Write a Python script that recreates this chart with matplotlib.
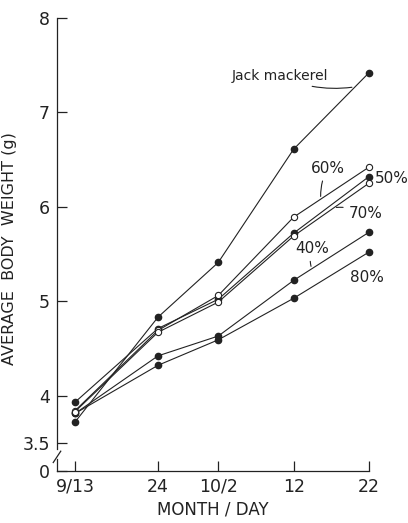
# growth curves, jack mackerel vs feed mixtures

import matplotlib.pyplot as plt
import numpy as np

days = [0, 11, 19, 29, 39]          # days after 9/13
day_labels = ['9/13', '24', '10/2', '12', '22']

jack = [3.72, 4.83, 5.41, 6.61, 7.42]
p40 = [3.81, 4.42, 4.63, 5.22, 5.73]
p50 = [3.93, 4.71, 5.02, 5.72, 6.32]
p60 = [3.84, 4.69, 5.06, 5.89, 6.42]
p70 = [3.83, 4.67, 4.99, 5.69, 6.25]
p80 = [3.81, 4.32, 4.59, 5.03, 5.52]

ytick_vals = [3.2, 3.5, 4, 5, 6, 7, 8]
ytick_labels = ['0', '3.5', '4', '5', '6', '7', '8']

fig = plt.figure(figsize=(4.08, 5.23), dpi=100)
ax = fig.add_axes([0.1397, 0.0994, 0.7647, 0.8662])

lc = '#222222'
filled = dict(marker='o', ms=4.5, mfc=lc, mec=lc)
opened = dict(marker='o', ms=4.5, mfc='white', mec=lc, mew=0.8)

for y in [jack, p40, p50, p80]:
    ax.plot(days, y, color=lc, lw=0.8, clip_on=False, **filled)
for y in [p60, p70]:
    ax.plot(days, y, color=lc, lw=0.8, clip_on=False, zorder=3, **opened)

ax.set_xlim(-2.4, 39)
ax.set_ylim(3.2, 8)

ax.set_xticks(days)
ax.set_xticklabels(day_labels)
ax.set_yticks(ytick_vals)
ax.set_yticklabels(ytick_labels)
ax.tick_params(direction='in', length=7, width=0.9, labelsize=12.5, colors=lc, pad=5)

ax.spines['top'].set_visible(False)
ax.spines['right'].set_visible(False)
for s in ['left', 'bottom']:
    ax.spines[s].set_linewidth(0.9)
    ax.spines[s].set_color(lc)
ax.spines['left'].set_bounds(3.43, 8)

# broken y axis
yt = ax.get_yaxis_transform()
ax.plot([0, 0], [3.2, 3.33], color=lc, lw=0.9, clip_on=False, transform=yt)
ax.plot([-0.012, 0.012], [3.29, 3.41], color=lc, lw=0.9, clip_on=False, transform=yt)

ax.set_xlabel('MONTH / DAY', fontsize=12, color=lc, labelpad=3)
ax.set_ylabel('AVERAGE  BODY  WEIGHT (g)', fontsize=11.5, color=lc)
ax.yaxis.set_label_coords(-0.128, 0.49)

# series labels with small leaders
lead = dict(arrowstyle='-', color=lc, lw=0.8, connectionstyle='arc3,rad=0.15')
ax.annotate('Jack mackerel', xy=(37.1, 7.27), xytext=(33.6, 7.385),
            ha='right', va='center', fontsize=10, color=lc, arrowprops=lead)
ax.annotate('60%', xy=(32.6, 6.08), xytext=(33.55, 6.41),
            ha='center', va='center', fontsize=11, color=lc, arrowprops=lead)
ax.text(39.8, 6.30, '50%', ha='left', va='center', fontsize=11, color=lc)
ax.annotate('70%', xy=(34.3, 5.99), xytext=(36.3, 5.93),
            ha='left', va='center', fontsize=11, color=lc, arrowprops=lead)
ax.annotate('40%', xy=(31.4, 5.34), xytext=(31.4, 5.56),
            ha='center', va='center', fontsize=11, color=lc, arrowprops=lead)
ax.text(38.7, 5.25, '80%', ha='center', va='center', fontsize=11, color=lc)

plt.savefig('out.png', dpi=100)
